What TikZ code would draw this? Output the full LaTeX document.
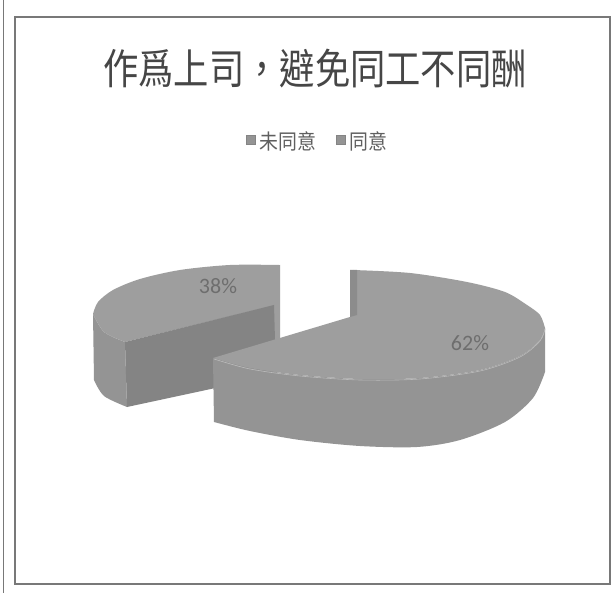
\documentclass[tikz,border=0pt]{standalone}
\usepackage{fontspec}
\usepackage{graphicx}
\setmainfont{Carlito}
\newfontfamily\cjk{Noto Sans CJK TC}
\definecolor{topgray}{RGB}{158,158,158}
\definecolor{rimgray}{RGB}{148,148,148}
\definecolor{facegray}{RGB}{132,132,132}
\definecolor{stripgray}{RGB}{140,140,140}
\definecolor{framegray}{RGB}{120,120,120}
\definecolor{titlegray}{RGB}{70,70,70}
\definecolor{leggray}{RGB}{95,95,95}
\definecolor{pctgray}{RGB}{110,110,110}
\tikzset{
  titletext/.style={inner sep=0pt, text=titlegray, font=\cjk\fontsize{42}{42}\selectfont},
  legtext/.style={inner sep=0pt, anchor=west, text=leggray, font=\cjk\fontsize{21}{21}\selectfont},
  legsq/.style={inner sep=0pt, minimum size=9pt, fill=rimgray, draw=facegray, line width=0.4pt},
  pcttext/.style={inner sep=0pt, text=pctgray, font=\fontsize{22}{22}\selectfont},
  framebox/.style={draw=framegray, line width=1.6pt},
}
\begin{document}
\begin{tikzpicture}[x=1pt,y=-1pt]
\useasboundingbox (0,0) rectangle (613,593);
\fill[white] (0,0) rectangle (613,593);
% outer frame and left scan line
\draw[framebox] (15,17) rectangle (610,584);
\draw[framegray, line width=1pt] (3,0) -- (3,593);

% title and legend
\node[titletext] (title) at (315,69) {\scalebox{0.84}[1]{作爲上司，避免同工不同酬}};
\node[legsq] (sq1) at (250.5,140) {};
\node[legtext] (lg1) at (259,141) {\scalebox{0.9}[1]{未同意}};
\node[legsq] (sq2) at (341,140) {};
\node[legtext] (lg2) at (349,141) {\scalebox{0.9}[1]{同意}};

% ---- 38% slice ----
% outer rim (left)
\fill[rimgray] (93,314) -- plot[smooth] coordinates {(93,314) (104,332) (125,342)} -- (127,407)
  -- plot[smooth] coordinates {(127,407) (104,396) (94,380)} -- cycle;
% top surface
\fill[topgray] (276,305) -- (279,265)
  -- plot[smooth] coordinates {(279,265) (230,265) (180,270) (140,279) (113,290) (98,302) (93,314)}
  -- plot[smooth] coordinates {(93,314) (104,332) (125,342)} -- cycle;
% edge-on cut face at back
\fill[topgray] (274,266) -- (280,265) -- (280,345) -- (274,345) -- cycle;
% front cut face
\fill[facegray] (125,342) -- (274,305) -- (276,375) -- (127,407) -- cycle;

% ---- 62% slice ----
% outer rim
\fill[rimgray] (213,358) -- plot[smooth] coordinates {(213,358) (250,368) (300,375) (360,379) (420,378) (480,370) (520,356) (540,340) (545,328)}
  -- (545,372)
  -- plot[smooth] coordinates {(545,372) (533,398) (505,422) (460,440) (417,447) (360,446) (300,440) (250,431) (214,422)}
  -- cycle;
% top surface
\fill[topgray] (350,317) -- (213,358)
  -- plot[smooth] coordinates {(213,358) (250,368) (300,375) (360,379) (420,378) (480,370) (520,356) (540,340) (545,328)}
  -- plot[smooth] coordinates {(545,328) (540,315) (527,305) (505,292) (467,282) (410,273) (353,270)}
  -- cycle;
% subtle seam between top and rim
\draw[white!30!topgray, line width=0.6pt] plot[smooth] coordinates {(214,359) (250,369) (300,376) (360,380) (420,379) (480,371) (520,357) (540,341) (545,329)};
% edge-on cut face at back
\fill[stripgray] (350,270) -- (357,270) -- (357,315) -- (350,317) -- cycle;

% percentage labels
\node[pcttext] (p38) at (218,286) {38\%};
\node[pcttext] (p62) at (470,343) {62\%};
\end{tikzpicture}
\end{document}
